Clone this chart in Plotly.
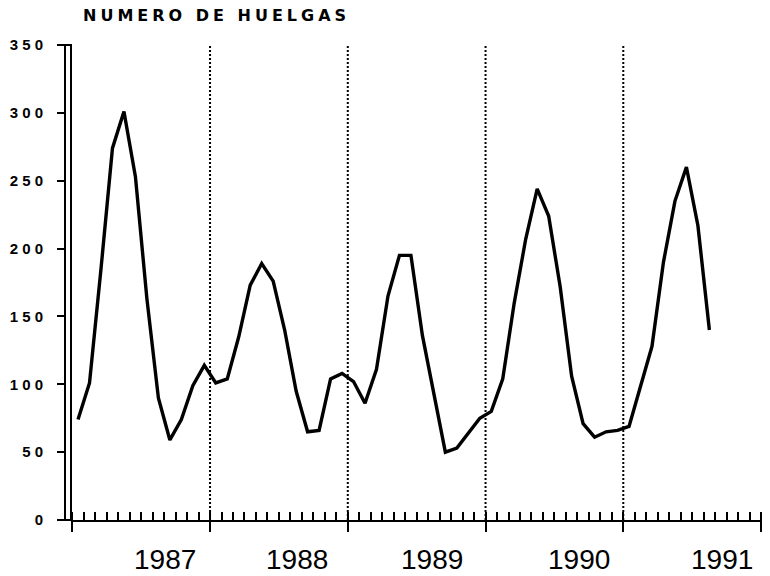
import plotly.graph_objects as go

# ---- data ----
years = [1987, 1988, 1989, 1990, 1991]
huelgas_1987 = [74, 101, 185, 274, 301, 253, 163, 90, 59, 74, 99, 114]
huelgas_1988 = [101, 104, 135, 173, 189, 176, 140, 95, 65, 66, 104, 108]
huelgas_1989 = [102, 86, 111, 165, 195, 195, 136, 92, 50, 53, 64, 75]
huelgas_1990 = [80, 104, 160, 207, 244, 224, 172, 106, 71, 61, 65, 66]
huelgas_1991 = [69, 99, 128, 190, 235, 260, 217, 140]
series = [huelgas_1987, huelgas_1988, huelgas_1989, huelgas_1990, huelgas_1991]

y_ticks = [0, 50, 100, 150, 200, 250, 300, 350]
y_ticktext = ["0", "5 0", "1 0 0", "1 5 0", "2 0 0", "2 5 0", "3 0 0", "3 5 0"]
year_labels = ["1987", "1988", "1989", "1990", "1991"]
title_text = "NUMERO DE HUELGAS"

# ---- layout helpers (positions/styles) ----
label_offsets = [0.67, 0.63, 0.61, 0.68, 0.72]
x_range = [1986.9906, 1992.007]

xs, ys = [], []
for yr, vals in zip(years, series):
    for m, v in enumerate(vals):
        xs.append(yr + (m + 0.5) / 12)
        ys.append(v)

fig = go.Figure()
fig.add_trace(go.Scatter(x=xs, y=ys, mode="lines",
                         line=dict(color="black", width=3.4),
                         showlegend=False, hoverinfo="skip"))

shapes = []
for yr in years[1:]:
    shapes.append(dict(type="line", xref="x", yref="y", x0=yr, x1=yr,
                       y0=0, y1=y_ticks[-1],
                       line=dict(color="black", width=2, dash="2px,2px")))
# double-line y axis bar
shapes.append(dict(type="rect", xref="paper", yref="paper",
                   x0=-6 / 691, x1=0, y0=0, y1=1,
                   line=dict(color="black", width=2), fillcolor="white",
                   layer="above"))

annotations = []
for yr, lab, off in zip(years, year_labels, label_offsets):
    annotations.append(dict(x=yr + off, y=-0.0842, xref="x", yref="paper",
                            text=lab, showarrow=False, xanchor="center",
                            yanchor="middle",
                            font=dict(family="Liberation Sans", size=28,
                                      color="black")))

fig.update_layout(
    width=770, height=576,
    margin=dict(l=71, r=8, t=45, b=56),
    paper_bgcolor="white", plot_bgcolor="white",
    shapes=shapes, annotations=annotations,
    title=dict(text=title_text, x=83 / 770, xref="container", xanchor="left",
               y=1 - 15 / 576, yref="container", yanchor="middle",
               font=dict(family="DejaVu Sans", size=16, weight="bold",
                         color="black")),
    xaxis=dict(range=x_range, showgrid=False, zeroline=False,
               showline=True, linecolor="black", linewidth=2,
               tickmode="array", tickvals=years + [1992],
               ticks="outside", ticklen=10, tickwidth=2, tickcolor="black",
               showticklabels=False,
               minor=dict(ticks="inside", ticklen=8, tickwidth=1.5,
                          tickcolor="black", tick0=1987, dtick=1 / 12,
                          showgrid=False)),
    yaxis=dict(range=[0, 350], showgrid=False, zeroline=False,
               showline=False, tickmode="array", tickvals=y_ticks,
               ticktext=y_ticktext, ticks="outside", ticklen=13,
               tickwidth=1.5, tickcolor="black", ticklabelstandoff=11,
               tickfont=dict(family="Liberation Sans", size=15, weight="bold",
                             color="black")),
)

post = ("document.body.style.margin='0';"
        "document.body.style.overflow='hidden';"
        "document.querySelectorAll('.gtitle').forEach(function(e){"
        "e.style.letterSpacing='4px';});")
fig.write_html("out.html", post_script=post,
               config={"displayModeBar": False})
